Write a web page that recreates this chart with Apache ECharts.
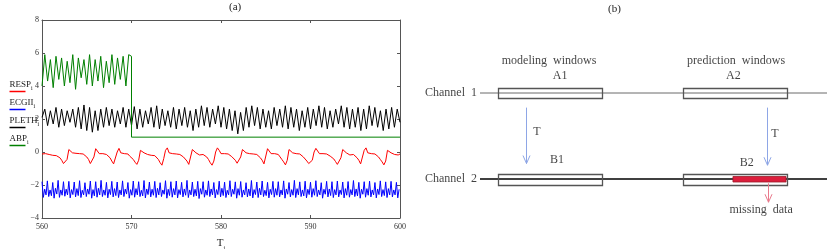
<!DOCTYPE html>
<html><head><meta charset="utf-8">
<script src="https://cdn.jsdelivr.net/npm/echarts@6/dist/echarts.min.js"></script>
<style>html,body{margin:0;padding:0;background:#fff}#c{width:830px;height:249px}</style>
</head><body><div id="c"></div><script>
// ---------- panel (a) data ----------
const xTicks = [560, 570, 580, 590, 600];
const yTicks = [-4, -2, 0, 2, 4, 6, 8];
const legendNames = ['RESP', 'ECGII', 'PLETH', 'ABP'];

// RESP, sampled every 0.2 s from 560
const respStart = 560, respStep = 0.2;
const respV = [
-0.12,-0.18,-0.10,-0.20,-0.15,
-0.12,-0.20,-0.15,-0.22,-0.30,
-0.35,-0.50,-0.70,-0.78,-0.45,
0.15,0.25,-0.05,-0.12,-0.08,
-0.15,-0.10,-0.18,-0.12,-0.20,
-0.30,-0.45,-0.70,-0.80,-0.30,
0.20,0.10,-0.10,-0.15,-0.10,
-0.20,-0.15,-0.22,-0.35,-0.55,
-0.72,-0.60,0.00,0.22,-0.05,
-0.15,-0.10,-0.18,-0.12,-0.25,
-0.35,-0.45,-0.62,-0.75,-0.50,
0.10,0.20,-0.05,-0.12,-0.15,
-0.10,-0.20,-0.15,-0.22,-0.30,
-0.45,-0.65,-0.80,-0.40,0.10,
0.25,-0.05,-0.15,-0.10,-0.20,
-0.12,-0.18,-0.15,-0.22,-0.30,
-0.40,-0.55,-0.75,-0.70,0.15,
0.20,-0.05,-0.12,-0.18,-0.10,
-0.15,-0.22,-0.30,-0.45,-0.65,
-0.80,-0.55,0.00,0.25,0.10,
-0.10,-0.15,-0.10,-0.18,-0.12,
-0.20,-0.28,-0.35,-0.50,-0.68,
-0.78,-0.30,0.15,0.20,-0.05,
-0.12,-0.10,-0.18,-0.12,-0.20,
-0.15,-0.25,-0.35,-0.50,-0.72,
-0.60,0.20,0.10,-0.10,-0.15,
-0.10,-0.20,-0.15,-0.30,-0.45,
-0.60,-0.78,-0.50,0.15,0.20,
-0.05,-0.15,-0.10,-0.18,-0.12,
-0.20,-0.30,-0.40,-0.55,-0.70,
-0.80,-0.50,0.00,0.22,0.10,
-0.10,-0.15,-0.10,-0.20,-0.12,
-0.18,-0.25,-0.30,-0.42,-0.58,
-0.75,-0.80,-0.35,0.15,0.20,
-0.05,-0.12,-0.18,-0.10,-0.15,
-0.25,-0.35,-0.50,-0.72,-0.65,
0.10,0.25,-0.05,-0.12,-0.10,
-0.18,-0.12,-0.22,-0.30,-0.45,
-0.60,-0.78,-0.55,0.10,0.20,
-0.05,-0.10,-0.15,-0.10,-0.18,
-0.12];

// ECGII, sampled every 0.15 s from 560
const ecgStart = 560, ecgStep = 0.15;
const ecgV = [
-1.80,-2.75,-2.25,-2.60,-1.75,-2.70,-2.30,-2.65,-1.85,-2.80,-2.20,-2.55,-1.72,-2.75,-2.30,-2.62,-1.80,-2.68,-2.25,-2.60,
-1.78,-2.78,-2.28,-2.58,-1.82,-2.72,-2.22,-2.64,-1.74,-2.76,-2.32,-2.60,-1.86,-2.70,-2.24,-2.56,-1.76,-2.80,-2.28,-2.66,
-1.80,-2.74,-2.20,-2.60,-1.72,-2.70,-2.30,-2.62,-1.84,-2.78,-2.26,-2.58,-1.78,-2.72,-2.22,-2.64,-1.82,-2.76,-2.30,-2.60,
-1.75,-2.70,-2.25,-2.55,-1.85,-2.80,-2.28,-2.62,-1.76,-2.74,-2.22,-2.60,-1.80,-2.70,-2.32,-2.66,-1.73,-2.78,-2.24,-2.58,
-1.82,-2.72,-2.26,-2.62,-1.78,-2.76,-2.20,-2.60,-1.86,-2.70,-2.30,-2.56,-1.74,-2.80,-2.26,-2.64,-1.80,-2.74,-2.22,-2.60,
-1.76,-2.78,-2.28,-2.58,-1.84,-2.72,-2.24,-2.62,-1.72,-2.76,-2.30,-2.60,-1.82,-2.70,-2.26,-2.66,-1.78,-2.82,-2.22,-2.56,
-1.80,-2.74,-2.30,-2.62,-1.75,-2.70,-2.24,-2.60,-1.85,-2.78,-2.28,-2.58,-1.77,-2.72,-2.20,-2.64,-1.83,-2.76,-2.32,-2.60,
-1.74,-2.70,-2.26,-2.56,-1.81,-2.80,-2.22,-2.62,-1.79,-2.74,-2.30,-2.60,-1.86,-2.72,-2.24,-2.66,-1.73,-2.78,-2.28,-2.58,
-1.82,-2.76,-2.20,-2.60,-1.76,-2.70,-2.32,-2.64,-1.84,-2.78,-2.26,-2.58,-1.78,-2.74,-2.22,-2.62,-1.80,-2.72,-2.30,-2.60,
-1.75,-2.80,-2.24,-2.56,-1.85,-2.72,-2.28,-2.62,-1.72,-2.76,-2.22,-2.60,-1.81,-2.70,-2.30,-2.66,-1.77,-2.78,-2.26,-2.58,
-1.83,-2.74,-2.22,-2.62,-1.74,-2.70,-2.30,-2.60,-1.86,-2.80,-2.26,-2.56,-1.78,-2.72,-2.24,-2.64,-1.80,-2.76,-2.28,-2.60,
-1.76,-2.72,-2.30,-2.58,-1.82,-2.78,-2.22,-2.62,-1.79,-2.74,-2.28,-2.60,-1.73,-2.70,-2.24,-2.66,-1.84,-2.80,-2.26,-2.56,
-1.80,-2.74,-2.22,-2.62,-1.77,-2.72,-2.30,-2.60,-1.85,-2.78,-2.24,-2.58,-1.75,-2.70,-2.28,-2.64,-1.81,-2.76,-2.22,-2.60,
-1.78,-2.72,-2.30,-2.60,-1.84,-2.78,-2.26];

// PLETH, sampled every 0.3125 s from 560
const plethStart = 560, plethStep = 0.3125;
const plethV = [
2.1,2.6,1.6,2.5,1.7,2.7,1.5,2.6,1.6,2.5,1.8,2.6,1.5,2.7,1.4,2.85,
1.3,2.7,1.2,2.5,1.3,2.6,1.5,2.7,1.6,2.6,1.5,2.5,1.7,2.7,1.5,2.6,
1.6,2.75,1.4,2.6,1.5,2.5,1.7,2.7,1.5,2.8,1.4,2.6,1.6,2.5,1.5,2.7,
1.4,2.6,1.6,2.7,1.5,2.5,1.3,2.6,1.5,2.8,1.6,2.7,1.5,2.6,1.7,2.8,
1.5,2.7,1.4,2.6,1.3,2.5,1.1,2.4,1.3,2.7,1.5,2.8,1.6,2.7,1.4,2.6,
1.5,2.5,1.4,2.7,1.6,2.6,1.5,2.8,1.4,2.7,1.5,2.6,1.3,2.5,1.5,2.7,
1.4,2.6,1.6,2.8,1.5,2.7,1.4,2.5,1.5,2.6,1.7,2.8,1.5,2.7,1.4,2.6,
1.5,2.7,1.3,2.6,1.4,2.8,1.6,2.7,1.5,2.5,1.3,2.6,1.4,2.7,1.5,2.6,
1.8];

// ABP, sampled every 0.3125 s from 560 to 570, then constant level
const abpStart = 560, abpStep = 0.3125;
const abpV = [
4.0,5.9,4.3,5.6,3.9,5.8,4.4,5.7,4.0,5.5,4.2,5.9,3.8,5.7,4.5,5.6,
4.1,5.9,4.0,5.6,4.3,5.8,3.9,5.5,4.2,5.9,4.1,5.7,4.4,5.8,4.0,5.9,
5.8];
const abpTailT = [570, 600];
const abpTailV = [0.9, 0.9];

// ---------- panel (b) diagram data (diagram units: time 0-100, channel number) ----------
const channelIds = [1, 2];
const channelLabels = ['Channel  1', 'Channel  2'];
const channelSpan = [0, 100];
const winNames = ['A1', 'A2', 'B1', 'B2'];
const winChannel = [1, 1, 2, 2];
const winStart = [5.2, 58.5, 5.2, 58.5];
const winEnd = [35.2, 88.5, 35.2, 88.5];
const winLabelX = [23.1, 73.0, 22.2, 76.9];
const winLabelY = [0.80, 0.80, 1.78, 1.81];
const missStart = [72.9], missEnd = [88.2], missChannel = [2];
const shiftX = [13.3, 82.7], shiftFrom = [1.17, 1.17], shiftTo = [1.82, 1.84];
const missArrowX = [83.0], missArrowFrom = [2.05], missArrowTo = [2.27];
const noteText = ['modeling  windows', 'prediction  windows', 'T', 'T', 'missing  data'];
const noteX = [19.9, 73.8, 16.4, 85.0, 81.0];
const noteY = [0.63, 0.63, 1.45, 1.48, 2.36];

// ---------- build ----------
const SERIF = 'Liberation Serif';
const seriesColors = {RESP: '#ff0000', ECGII: '#0000ff', PLETH: '#000000', ABP: '#008000'};
const toXY = (vals, t0, dt) => vals.map((v, i) => [+(t0 + i * dt).toFixed(4), v]);
const lineSeries = (name, data) => ({
  type: 'line', name, xAxisIndex: 0, yAxisIndex: 0, data, symbol: 'none', showSymbol: false,
  lineStyle: {color: seriesColors[name], width: 1}, itemStyle: {color: seriesColors[name]},
  silent: true, clip: true, z: 3
});
const subRich = {s: {fontSize: 6, fontFamily: SERIF, fill: '#222', color: '#222', verticalAlign: 'bottom', lineHeight: 14}};

const axisCommon = {
  axisLine: {show: true, onZero: false, lineStyle: {color: '#555', width: 1}},
  axisTick: {show: true, inside: true, length: 3, lineStyle: {color: '#555'}},
  splitLine: {show: false}
};
const titleStyle = {fontFamily: SERIF, fontSize: 11, fontWeight: 'normal', color: '#222'};

const chart = echarts.init(document.getElementById('c'), null, {renderer: 'canvas'});
const option = {
  animation: false,
  backgroundColor: '#fff',
  title: [
    {text: '(a)', left: 229, top: 2, padding: 0, textStyle: titleStyle},
    {text: '(b)', left: 608, top: 4, padding: 0, textStyle: titleStyle}
  ],
  grid: [
    {left: 42, right: 430, top: 20, bottom: 31, containLabel: false, outerBoundsMode: 'none'},
    {left: 480, right: 3, top: 7, bottom: 27, containLabel: false, outerBoundsMode: 'none'}
  ],
  xAxis: [
    Object.assign({gridIndex: 0, type: 'value', min: xTicks[0], max: xTicks[xTicks.length - 1], interval: xTicks[1] - xTicks[0],
      axisLabel: {fontFamily: SERIF, fontSize: 8, color: '#333', margin: 5},
      name: '{t|T}{s|i}', nameLocation: 'middle', nameGap: 17,
      nameTextStyle: {rich: {t: {fontFamily: SERIF, fontSize: 11, color: '#222'}, s: {fontSize: 6, fontFamily: SERIF, color: '#222', verticalAlign: 'bottom', lineHeight: 16}}}
    }, axisCommon),
    Object.assign({gridIndex: 0, type: 'value', position: 'top', min: xTicks[0], max: xTicks[xTicks.length - 1], interval: xTicks[1] - xTicks[0],
      axisLabel: {show: false}}, axisCommon),
    {gridIndex: 1, type: 'value', min: channelSpan[0], max: channelSpan[1], show: false}
  ],
  yAxis: [
    Object.assign({gridIndex: 0, type: 'value', min: yTicks[0], max: yTicks[yTicks.length - 1], interval: yTicks[1] - yTicks[0],
      axisLabel: {fontFamily: SERIF, fontSize: 8, color: '#333', margin: 3, formatter: v => v < 0 ? '\u2212' + Math.abs(v) : String(v)}}, axisCommon),
    Object.assign({gridIndex: 0, type: 'value', position: 'right', min: yTicks[0], max: yTicks[yTicks.length - 1], interval: yTicks[1] - yTicks[0],
      axisLabel: {show: false}}, axisCommon),
    {gridIndex: 1, type: 'value', min: 0, max: 2.5, inverse: true, show: false}
  ],
  series: [
    lineSeries('ECGII', toXY(ecgV, ecgStart, ecgStep)),
    lineSeries('RESP', toXY(respV, respStart, respStep)),
    lineSeries('PLETH', toXY(plethV, plethStart, plethStep)),
    lineSeries('ABP', toXY(abpV, abpStart, abpStep).concat(abpTailT.map((t, i) => [t, abpTailV[i]]))),
    // channel lines
    ...channelIds.map((ch, i) => ({
      type: 'line', xAxisIndex: 2, yAxisIndex: 2, silent: true, symbol: 'none',
      data: [[channelSpan[0], ch], [channelSpan[1], ch]],
      lineStyle: {color: i === 0 ? '#6a6a6a' : '#000', width: i === 0 ? 1 : 1.5}, z: 2
    })),
    // channel labels
    {
      type: 'scatter', xAxisIndex: 2, yAxisIndex: 2, silent: true, symbolSize: 0,
      data: channelIds.map((ch, i) => ({value: [channelSpan[0], ch], name: channelLabels[i]})),
      label: {show: true, position: 'left', distance: 3, formatter: '{b}', fontFamily: SERIF, fontSize: 12, color: '#111'}
    },
    // windows
    {
      type: 'custom', xAxisIndex: 2, yAxisIndex: 2, silent: true, z: 3,
      data: winNames.map((n, i) => [winStart[i], winEnd[i], winChannel[i]]),
      encode: {x: [0, 1], y: 2},
      renderItem: (params, api) => {
        const a = api.coord([api.value(0), api.value(2)]);
        const b = api.coord([api.value(1), api.value(2)]);
        const h = api.value(2) === 1 ? 10 : 11;
        return {type: 'rect', shape: {x: Math.round(a[0]) + 0.5, y: Math.round(a[1] - h / 2) + 0.5, width: Math.round(b[0] - a[0]), height: h},
          style: {fill: 'rgba(0,0,0,0)', stroke: '#555', lineWidth: 1.3}};
      }
    },
    // missing data bar
    {
      type: 'custom', xAxisIndex: 2, yAxisIndex: 2, silent: true, z: 4,
      data: missStart.map((s, i) => [s, missEnd[i], missChannel[i]]),
      encode: {x: [0, 1], y: 2},
      renderItem: (params, api) => {
        const a = api.coord([api.value(0), api.value(2)]);
        const b = api.coord([api.value(1), api.value(2)]);
        return {type: 'rect', shape: {x: a[0], y: a[1] - 2.5, width: b[0] - a[0], height: 5.5},
          style: {fill: '#dc1e3c', stroke: '#9a1a2a', lineWidth: 0.8}};
      }
    },
    // arrows (T shifts + missing-data pointer)
    {
      type: 'custom', xAxisIndex: 2, yAxisIndex: 2, silent: true, z: 5,
      data: shiftX.map((x, i) => [x, shiftFrom[i], shiftTo[i], 0]).concat(missArrowX.map((x, i) => [x, missArrowFrom[i], missArrowTo[i], 1])),
      encode: {x: 0, y: [1, 2]},
      renderItem: (params, api) => {
        const a = api.coord([api.value(0), api.value(1)]);
        const b = api.coord([api.value(0), api.value(2)]);
        const col = api.value(3) === 1 ? '#e97a8c' : '#8ea6e6';
        const x = Math.round(a[0]) + 0.5;
        return {type: 'group', children: [
          {type: 'line', shape: {x1: x, y1: a[1], x2: x, y2: b[1]}, style: {stroke: col, lineWidth: 1}},
          {type: 'polyline', shape: {points: [[x - 3.5, b[1] - 8], [x, b[1]], [x + 3.5, b[1] - 8]]}, style: {stroke: col, fill: null, lineWidth: 1}}
        ]};
      }
    },
    // window labels and notes
    {
      type: 'scatter', xAxisIndex: 2, yAxisIndex: 2, silent: true, symbolSize: 0, z: 6,
      data: winNames.map((n, i) => ({value: [winLabelX[i], winLabelY[i]], name: n}))
        .concat(noteText.map((t, i) => ({value: [noteX[i], noteY[i]], name: t}))),
      label: {show: true, position: 'inside', formatter: '{b}', fontFamily: SERIF, fontSize: 12, color: '#111'}
    }
  ],
  graphic: legendNames.map((n, i) => ({
    type: 'group', left: 7, top: 80 + i * 18, silent: true,
    children: [
      {type: 'text', x: 0, y: 0, style: {text: n + '{s|i}', fontFamily: SERIF, fontSize: 9, fill: '#222', rich: subRich}},
      {type: 'line', shape: {x1: 0, y1: 14, x2: 16, y2: 14}, style: {stroke: seriesColors[n], lineWidth: 1.5}}
    ]
  }))
};
chart.setOption(option);
</script></body></html>
